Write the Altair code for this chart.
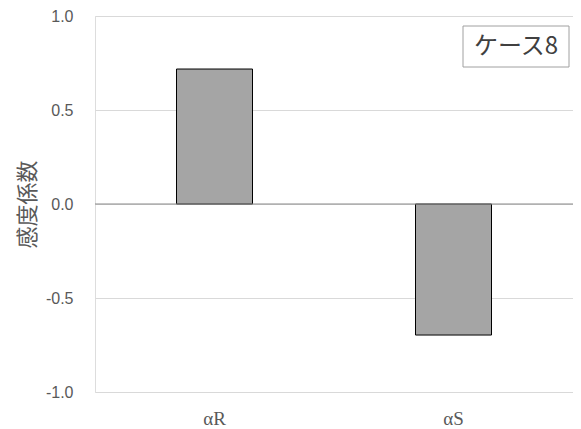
import altair as alt
import pandas as pd

categories = ["αR", "αS"]
values = [0.718, -0.697]
y_ticks = [-1.0, -0.5, 0.0, 0.5, 1.0]
case_label = "ケース8"
y_title = "感度係数"

df = pd.DataFrame({"param": categories, "value": values})

W, H = 478, 376

base = alt.Chart(df)

bars = base.mark_bar(size=76, color="#a5a5a5", stroke="#000000", strokeWidth=1).encode(
    x=alt.X("param:N", sort=categories, title=None,
            scale=alt.Scale(paddingInner=0, paddingOuter=0),
            axis=alt.Axis(labelAngle=0, labelFont="Liberation Serif", labelFontSize=19,
                          labelColor="#595959", ticks=False, domain=False, labelPadding=17)),
    y=alt.Y("value:Q", scale=alt.Scale(domain=[-1, 1], nice=False),
            axis=alt.Axis(values=y_ticks, title=y_title,
                          labelExpr="replace(format(datum.value, '.1f'), '\u2212', '-')",
                          titleFont="Noto Sans CJK JP", titleFontSize=22, titleFontWeight="normal",
                          titleColor="#595959", titlePadding=6,
                          labelFont="Liberation Sans", labelFontSize=16, labelColor="#595959",
                          ticks=False, domain=False, labelPadding=22,
                          gridColor="#d9d9d9", gridWidth=1)),
)

zero = alt.Chart(pd.DataFrame({"z": [0]})).mark_rule(color="#898989", strokeWidth=1).encode(
    y=alt.Y("z:Q")
)

box = alt.Chart(pd.DataFrame({"t": [case_label]})).mark_rect(
    fill="white", stroke="#a0a0a0", strokeWidth=1
).encode(
    x=alt.value(368), x2=alt.value(474), y=alt.value(10), y2=alt.value(51)
)

label = alt.Chart(pd.DataFrame({"t": [case_label]})).mark_text(
    font="Noto Sans CJK JP", fontSize=24, color="#404040", align="center", baseline="middle"
).encode(
    text="t:N", x=alt.value(421), y=alt.value(31)
)

chart = alt.layer(bars, zero, box, label).properties(
    width=W, height=H,
    autosize=alt.AutoSizeParams(type="none"),
    padding={"left": 87, "top": 8, "right": 0, "bottom": 36},
).configure_view(stroke="#898989", strokeWidth=1).configure(background="white")

chart.save("out.html", embed_options={"renderer": "svg", "actions": False})
